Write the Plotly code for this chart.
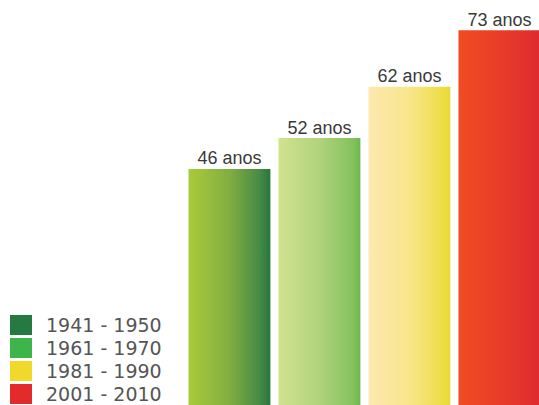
import plotly.graph_objects as go

categories = ["1941 - 1950", "1961 - 1970", "1981 - 1990", "2001 - 2010"]
values = [46, 52, 62, 73]
labels = ["46 anos", "52 anos", "62 anos", "73 anos"]
legend_colors = ["#247a40", "#3db54b", "#f1d92b", "#e42b2b"]
gradients = [
    [[0, "#a9cb3a"], [0.5, "#82ae42"], [0.85, "#4a8c46"], [1, "#26773f"]],
    [[0, "#d2e28e"], [0.5, "#b0d37b"], [0.9, "#86c25e"], [1, "#6db84f"]],
    [[0, "#fde8b0"], [0.5, "#f8e68b"], [0.9, "#eedd48"], [1, "#e8db35"]],
    [[0, "#f04c22"], [0.5, "#e83d29"], [1, "#df2930"]],
]

bar_w = 0.91
fig = go.Figure()
for i, (v, g) in enumerate(zip(values, gradients)):
    x0, x1 = i - bar_w / 2, i + bar_w / 2
    fig.add_trace(go.Scatter(
        x=[x0, x1, x1, x0, x0], y=[0, 0, v, v, 0],
        mode="lines", line=dict(width=0), fill="toself",
        fillgradient=dict(type="horizontal", colorscale=g),
        hoverinfo="skip", showlegend=False,
    ))

fig.add_trace(go.Scatter(
    x=list(range(len(values))), y=values, mode="text", text=labels,
    textposition="top center",
    textfont=dict(family="Liberation Sans, Arial", size=18, color="#3a3a3a"),
    showlegend=False, hoverinfo="skip",
))

# custom legend (bottom-left)
row_y = [325, 348, 371, 394]
for c, name, py in zip(legend_colors, categories, row_y):
    fig.add_shape(type="rect", xref="paper", yref="paper",
                  x0=10 / 539, x1=32 / 539,
                  y0=1 - (py + 10) / 405, y1=1 - (py - 10) / 405,
                  fillcolor=c, line=dict(width=0))
    fig.add_annotation(xref="paper", yref="paper", x=44 / 539, y=1 - py / 405,
                       xanchor="left", yanchor="middle", showarrow=False,
                       text=name,
                       font=dict(family="DejaVu Sans", size=19, color="#555555"))

fig.update_layout(
    width=539, height=405, margin=dict(l=0, r=0, t=0, b=0),
    paper_bgcolor="white", plot_bgcolor="white",
    xaxis=dict(range=[-2.55, 3.44], visible=False, fixedrange=True),
    yaxis=dict(range=[0, 78.9], visible=False, fixedrange=True),
)
fig.write_html(
    "out.html",
    config={"displayModeBar": False, "staticPlot": True},
    post_script="document.body.style.margin='0';document.body.style.overflow='hidden';",
)
